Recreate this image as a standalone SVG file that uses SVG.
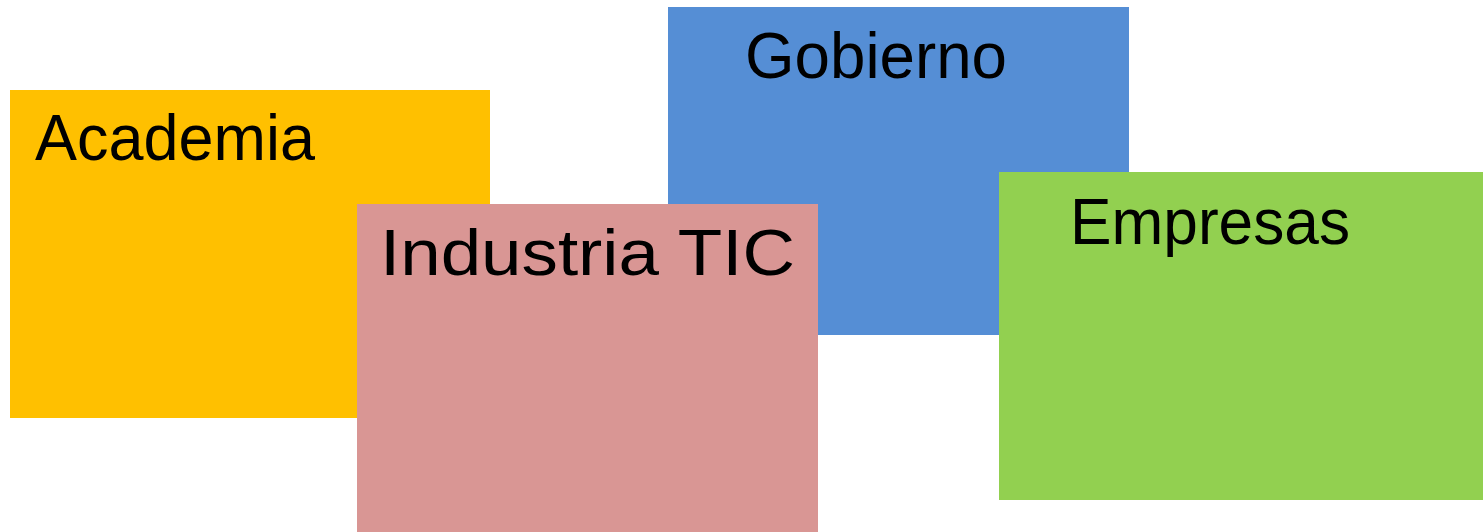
<svg xmlns="http://www.w3.org/2000/svg" width="1483" height="532" viewBox="0 0 1483 532">
<style>
.lbl{font-family:"Liberation Sans","DejaVu Sans",sans-serif;font-size:64px;fill:#000}
</style>
<rect width="1483" height="532" fill="#fff"/>
<g id="academia"><rect x="10" y="90" width="480" height="328" fill="#FFC000"/><text class="lbl" x="35" y="160" textLength="280" lengthAdjust="spacingAndGlyphs">Academia</text></g>
<g id="gobierno"><rect x="668" y="7" width="461" height="328" fill="#558ED5"/><text class="lbl" x="745" y="78" textLength="262" lengthAdjust="spacingAndGlyphs">Gobierno</text></g>
<g id="industria"><rect x="357" y="204" width="461" height="328" fill="#D99694"/><text class="lbl" x="380" y="275" textLength="415" lengthAdjust="spacingAndGlyphs">Industria TIC</text></g>
<g id="empresas"><rect x="999" y="172" width="484" height="328" fill="#92D050"/><text class="lbl" x="1070" y="244" textLength="280" lengthAdjust="spacingAndGlyphs">Empresas</text></g>
<g id="connectors"/>
</svg>
